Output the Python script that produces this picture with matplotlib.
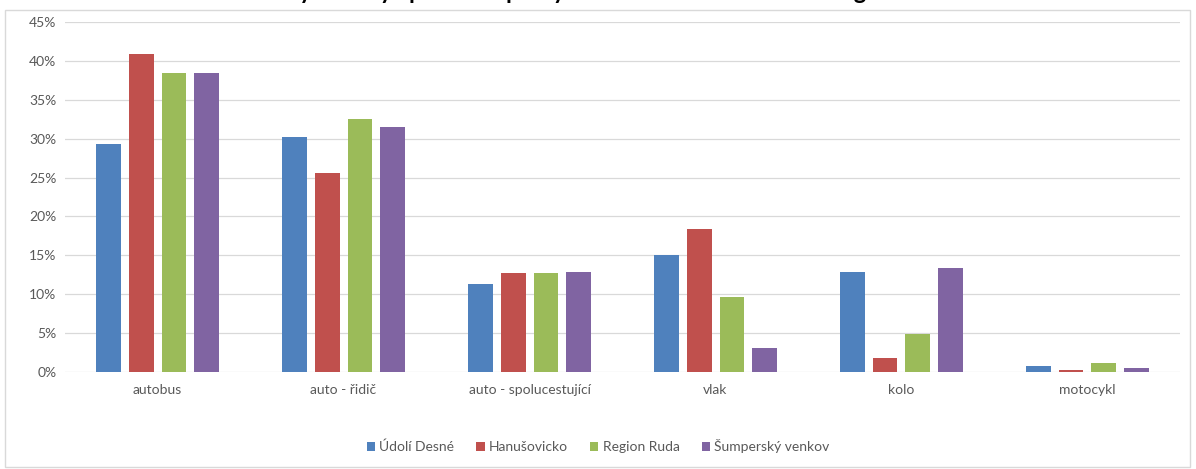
import numpy as np
import matplotlib.pyplot as plt
from matplotlib.patches import Rectangle
from matplotlib.ticker import FuncFormatter

categories = ["autobus", "auto - řidič", "auto - spolucestující", "vlak", "kolo", "motocykl"]
regions = ["Údolí Desné", "Hanušovicko", "Region Ruda", "Šumperský venkov"]

udoli_desne = [29.3, 30.2, 11.3, 15.0, 12.9, 0.8]
hanusovicko = [40.9, 25.6, 12.7, 18.4, 1.8, 0.3]
region_ruda = [38.4, 32.5, 12.7, 9.6, 4.9, 1.2]
sumpersky_venkov = [38.4, 31.5, 12.9, 3.1, 13.4, 0.5]

series = [udoli_desne, hanusovicko, region_ruda, sumpersky_venkov]
colors = ["#4F81BD", "#C0504D", "#9BBB59", "#8064A2"]

plt.rcParams['font.family'] = ['Lato', 'DejaVu Sans']

fig = plt.figure(figsize=(11.96, 4.69), dpi=100)
ax = fig.add_axes([0.054, 0.207, 0.933, 0.746])

x = np.arange(len(categories))
width = 0.134
step = 0.177
for i, (vals, col, name) in enumerate(zip(series, colors, regions)):
    offset = (i - 1.5) * step
    ax.bar(x + offset, np.array(vals) / 100, width, color=col, label=name, zorder=3)

ax.set_xlim(-0.5, len(categories) - 0.5)
ax.set_ylim(0, 0.45)
ax.set_yticks(np.arange(0, 0.451, 0.05))
ax.yaxis.set_major_formatter(FuncFormatter(lambda v, p: f"{v * 100:.0f}%"))
ax.set_xticks(x)
ax.set_xticklabels(categories)
ax.grid(axis="y", color="#d9d9d9", linewidth=0.9, zorder=0)
for s in ax.spines.values():
    s.set_visible(False)
ax.tick_params(axis="both", length=0, colors="#595959", labelsize=10)
ax.tick_params(axis="x", pad=9)
ax.tick_params(axis="y", pad=6)

# outer chart border
fig.patches.append(Rectangle((5 / 1196, 0.005), 1185 / 1196, 1 - 10 / 469 - 0.005,
                             transform=fig.transFigure, fill=False,
                             edgecolor="#d9d9d9", linewidth=1))

# title: in the source image it is cut off, only the descenders show
fig.text(0.5, 1 + 1 / 469, "Využívaný způsob dopravy do zaměstnání a škol dle regionu",
         ha="center", va="baseline", fontsize=17, fontweight="bold", color="black")

fig.legend(loc="center", bbox_to_anchor=(0.5, 0.049), ncol=4, frameon=False,
           fontsize=10, handlelength=0.6, handleheight=0.6, handletextpad=0.3,
           columnspacing=1.6, labelcolor="#595959")

fig.savefig("out.png", dpi=100)
